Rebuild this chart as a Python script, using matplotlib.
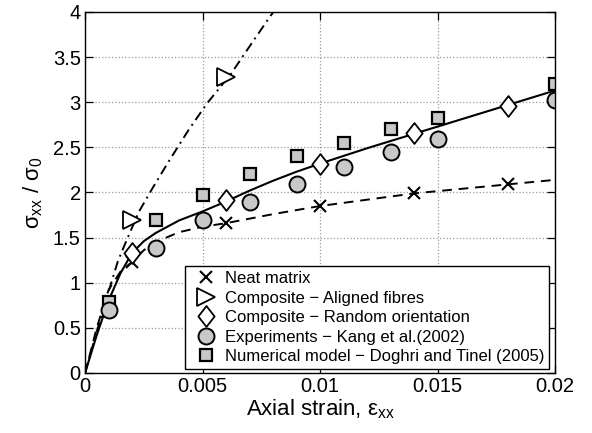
import matplotlib
matplotlib.use("Agg")
import matplotlib.pyplot as plt
from matplotlib.lines import Line2D
from matplotlib.path import Path

plt.rcParams['font.family'] = ['Liberation Sans', 'DejaVu Sans']
plt.rcParams['mathtext.fontset'] = 'custom'
plt.rcParams['mathtext.rm'] = 'Liberation Sans'
plt.rcParams['mathtext.it'] = 'Liberation Sans'

# model curves (strain, normalised stress)
neat_strain = [0, 0.0005, 0.001, 0.0015, 0.002, 0.0025, 0.003, 0.004, 0.005, 0.006,
               0.008, 0.01, 0.012, 0.014, 0.016, 0.018, 0.02]
neat_stress = [0, 0.5, 0.92, 1.12, 1.23, 1.36, 1.45, 1.56, 1.62, 1.66,
               1.76, 1.85, 1.92, 1.99, 2.04, 2.09, 2.14]

aligned_strain = [0, 0.0005, 0.001, 0.0014, 0.0018, 0.0023, 0.0029, 0.0036, 0.0044,
                  0.0052, 0.0062, 0.0069, 0.0079, 0.0082]
aligned_stress = [0, 0.46, 0.9, 1.24, 1.49, 1.79, 2.06, 2.36, 2.69,
                  2.99, 3.31, 3.58, 3.96, 4.06]

random_strain = [0, 0.0005, 0.001, 0.0015, 0.002, 0.0025, 0.003, 0.0035, 0.004,
                 0.005, 0.006, 0.007, 0.008, 0.009, 0.01, 0.012, 0.014, 0.016,
                 0.018, 0.02]
random_stress = [0, 0.42, 0.8, 1.1, 1.33, 1.46, 1.55, 1.62, 1.69, 1.79, 1.9,
                 2.02, 2.13, 2.23, 2.32, 2.49, 2.65, 2.81, 2.97, 3.13]

# markers on the curves
neat_mk_x = [0.002, 0.006, 0.01, 0.014, 0.018]
neat_mk_y = [1.23, 1.66, 1.85, 1.99, 2.09]
aligned_mk_x = [0.002, 0.006]
aligned_mk_y = [1.70, 3.28]
random_mk_x = [0.002, 0.006, 0.01, 0.014, 0.018]
random_mk_y = [1.33, 1.92, 2.32, 2.66, 2.96]

# experiments and numerical reference
exp_x = [0.001, 0.003, 0.005, 0.007, 0.009, 0.011, 0.013, 0.015, 0.02]
exp_y = [0.70, 1.385, 1.69, 1.89, 2.09, 2.28, 2.445, 2.59, 3.02]
num_x = [0.001, 0.003, 0.005, 0.007, 0.009, 0.011, 0.013, 0.015, 0.02]
num_y = [0.79, 1.69, 1.97, 2.20, 2.40, 2.55, 2.70, 2.82, 3.20]

labels = ['Neat matrix', 'Composite \u2212 Aligned fibres',
          'Composite \u2212 Random orientation',
          'Experiments \u2212 Kang et al.(2002)',
          'Numerical model \u2212 Doghri and Tinel (2005)']

grey = '#c8c8c8'
diamond = Path([(0, 1), (0.78, 0), (0, -1), (-0.78, 0), (0, 1)],
               [Path.MOVETO, Path.LINETO, Path.LINETO, Path.LINETO, Path.CLOSEPOLY])

fig = plt.figure(figsize=(5.92, 4.33), dpi=100)
ax = fig.add_axes([0.1436, 0.1386, 0.7939, 0.8337])

ax.plot(neat_strain, neat_stress, '--', color='k', lw=1.4, dashes=(5, 3.5))
ax.plot(aligned_strain, aligned_stress, '-.', color='k', lw=1.4, dashes=(5, 2.5, 1, 2.5))
ax.plot(random_strain, random_stress, '-', color='k', lw=1.5)

mk = dict(linestyle='none', markeredgecolor='k')
ax.plot(num_x, num_y, marker='s', markersize=9, markerfacecolor=grey, markeredgewidth=1.6, **mk)
ax.plot(exp_x, exp_y, marker='o', markersize=11.5, markerfacecolor=grey, markeredgewidth=1.4, **mk)
ax.plot(neat_mk_x, neat_mk_y, marker='x', markersize=9, markeredgewidth=1.5, **mk)
ax.plot(aligned_mk_x, aligned_mk_y, marker='>', markersize=13, markerfacecolor='white', markeredgewidth=1.3, **mk)
ax.plot(random_mk_x, random_mk_y, marker=diamond, markersize=15, markerfacecolor='white', markeredgewidth=1.3, **mk)

ax.set_xlim(0, 0.02)
ax.set_ylim(0, 4)
ax.set_xticks([0, 0.005, 0.01, 0.015, 0.02])
ax.set_xticklabels(['0', '0.005', '0.01', '0.015', '0.02'])
ax.set_yticks([0, 0.5, 1, 1.5, 2, 2.5, 3, 3.5, 4])
ax.set_yticklabels(['0', '0.5', '1', '1.5', '2', '2.5', '3', '3.5', '4'])
ax.tick_params(direction='in', top=True, right=True, length=6, width=0.9,
               labelsize=14.5, pad=3)
ax.grid(True, linestyle=':', color='#9a9a9a', lw=0.9)
for s in ax.spines.values():
    s.set_linewidth(1.0)

ax.set_xlabel(r'Axial strain, $\mathregular{\epsilon_{xx}}$', fontsize=16, labelpad=1)
ax.set_ylabel(r'$\mathregular{\sigma_{xx}}$ / $\mathregular{\sigma_0}$', fontsize=16, labelpad=6)

handles = [
    Line2D([], [], marker='x', markersize=9, markeredgewidth=1.5, **mk),
    Line2D([], [], marker='>', markersize=13, markerfacecolor='white', markeredgewidth=1.3, **mk),
    Line2D([], [], marker=diamond, markersize=15, markerfacecolor='white', markeredgewidth=1.3, **mk),
    Line2D([], [], marker='o', markersize=11.5, markerfacecolor=grey, markeredgewidth=1.4, **mk),
    Line2D([], [], marker='s', markersize=9, markerfacecolor=grey, markeredgewidth=1.6, **mk),
]
leg = ax.legend(handles, labels, loc='lower right', bbox_to_anchor=(0.988, 0.011),
                fontsize=12, frameon=True, fancybox=False, borderaxespad=0,
                handlelength=2.0, handletextpad=0.12, labelspacing=0.27,
                borderpad=0.3)
leg.get_frame().set_edgecolor('k')
leg.get_frame().set_linewidth(1.0)
leg.get_frame().set_alpha(1)

fig.savefig('out.png', dpi=100)
